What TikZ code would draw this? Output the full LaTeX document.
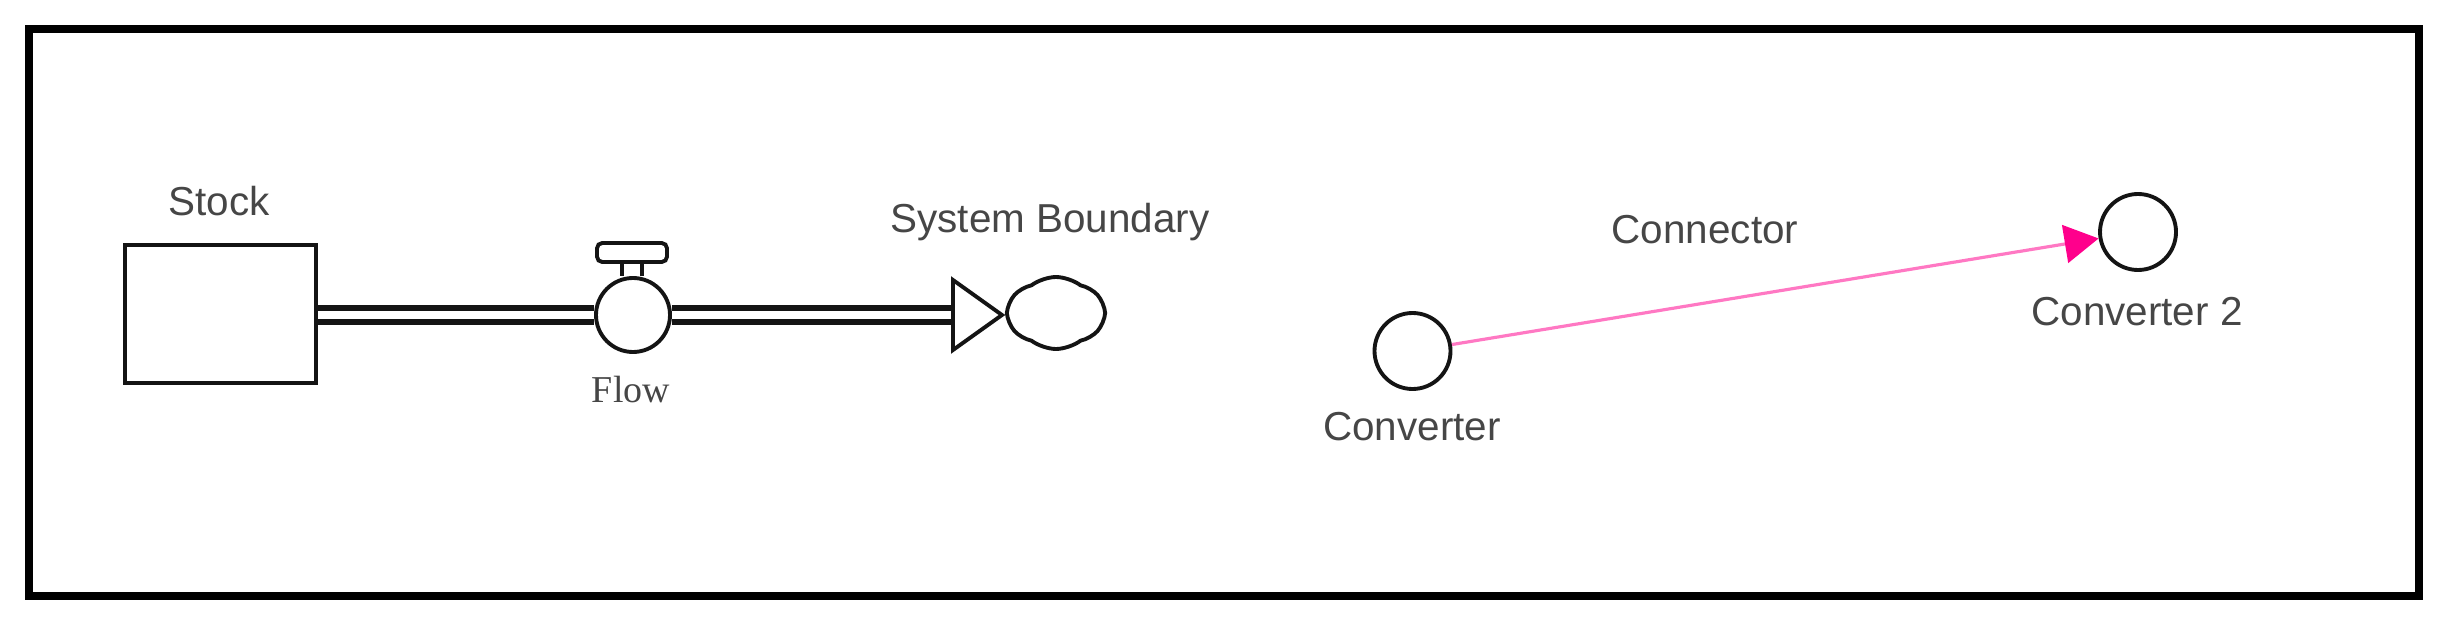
\documentclass[tikz,border=0pt]{standalone}
\usepackage{fontspec}
\setmainfont{Liberation Sans}
\newfontfamily\flowfont{Liberation Serif}
\usepackage{tikz}
\usetikzlibrary{shapes.symbols, arrows.meta, positioning}
\definecolor{mydark}{RGB}{20,20,20}
\definecolor{mygray}{RGB}{70,70,70}
\definecolor{mypink}{RGB}{255,0,140}
\definecolor{mylightpink}{RGB}{255,120,195}
\tikzset{
  stockbox/.style={rectangle, draw=mydark, fill=white,
    minimum width=1.91cm, minimum height=1.38cm, line width=1.1pt},
  valve/.style={circle, draw=mydark, fill=white,
    minimum size=0.74cm, inner sep=0pt, line width=1.1pt},
  handle/.style={rectangle, rounded corners=1.5pt, draw=mydark, fill=white,
    minimum width=0.70cm, minimum height=0.19cm, inner sep=0pt, line width=1.1pt},
  conv/.style={circle, draw=mydark, fill=white,
    minimum size=0.76cm, inner sep=0pt, line width=1.1pt},
  boundary/.style={cloud, cloud puffs=6, cloud puff arc=75, aspect=1.35,
    draw=mydark, minimum width=0.96cm, minimum height=0.72cm, inner sep=0pt, line width=1.1pt},
  lbl/.style={font=\fontsize{11.5}{13}\selectfont, text=mygray, anchor=base, inner sep=0pt},
  pipe/.style={draw=mydark, line width=1.8pt, double=white, double distance=2.0pt},
  stem/.style={line width=1pt, color=mydark},
  link/.style={-{Triangle[length=0.34cm, width=0.38cm, color=mypink]},
    color=mylightpink, line width=0.9pt},
  frame/.style={draw=black, line width=2.4pt}
}
\begin{document}
\begin{tikzpicture}
  \useasboundingbox (0,0) rectangle (24.51,6.26);
  \draw[frame] (0.29,0.30) rectangle (24.19,5.97);

  % stock and flow
  \node[stockbox] (stock) at (2.205,3.12) {};
  \node[valve] (valve) at (6.33,3.11) {};
  \node[handle] (handle) at (6.32,3.735) {};
  \coordinate (headbase) at (9.53,3.11);
  \coordinate (tip) at (10.02,3.11);

  \draw[pipe] (stock.east |- valve.west) -- (valve.west);
  \draw[pipe] (valve.east) -- (headbase);
  \draw[stem] ([xshift=-0.1cm]handle.south) -- ([xshift=-0.1cm]handle.south |- valve.north);
  \draw[stem] ([xshift=0.1cm]handle.south) -- ([xshift=0.1cm]handle.south |- valve.north);
  \draw[line width=1.1pt, draw=mydark, fill=white]
    ([yshift=0.35cm]headbase) -- (tip) -- ([yshift=-0.35cm]headbase) -- cycle;

  \node[boundary] (cloud) at (10.56,3.13) {};

  \node[lbl] (stocklbl) at (2.19,4.10) {Stock};
  \node[lbl, font=\flowfont\fontsize{10.8}{13}\selectfont] (flowlbl) at (6.31,2.24) {Flow};
  \node[lbl] (cloudlbl) at (10.50,3.93) {System Boundary};

  % converters
  \node[conv] (conv1) at (14.125,2.75) {};
  \node[conv] (conv2) at (21.38,3.94) {};
  \draw[link] (conv1) -- (conv2);

  \node[lbl] (conv1lbl) at (14.12,1.86) {Converter};
  \node[lbl] (conv2lbl) at (21.37,3.01) {Converter 2};
  \node[lbl] (linklbl) at (17.05,3.83) {Connector};
\end{tikzpicture}
\end{document}
